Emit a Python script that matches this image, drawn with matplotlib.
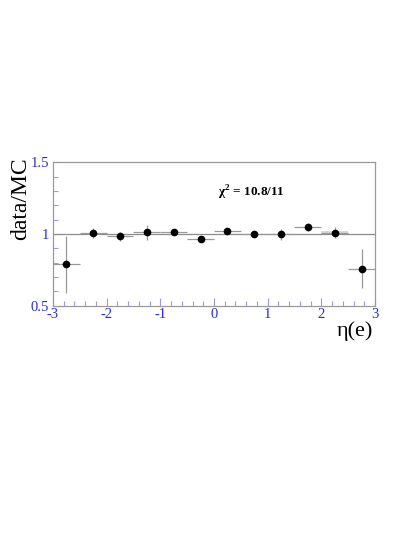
import matplotlib
matplotlib.use("Agg")
import matplotlib.pyplot as plt
from matplotlib.ticker import MultipleLocator

eta_centers = [-2.75, -2.25, -1.75, -1.25, -0.75, -0.25, 0.25, 0.75, 1.25, 1.75, 2.25, 2.75]
eta_halfwidth = [0.25] * 12
ratio = [0.79, 1.006, 0.985, 1.012, 1.012, 0.964, 1.024, 0.998, 0.998, 1.049, 1.010, 0.758]
ratio_err = [0.20, 0.035, 0.03, 0.05, 0.02, 0.01, 0.012, 0.01, 0.04, 0.03, 0.04, 0.135]
band_x = [2.0, 2.5]
band_lo = [1.0, 1.0]
band_hi = [1.02, 1.02]

plt.rcParams['font.family'] = ['Liberation Serif', 'DejaVu Serif']
plt.rcParams['mathtext.fontset'] = 'custom'
plt.rcParams['mathtext.rm'] = 'Liberation Serif'
plt.rcParams['mathtext.bf'] = 'Liberation Serif:bold'

fig = plt.figure(figsize=(4.15, 5.37), dpi=100)
ax = fig.add_axes([0.1277, 0.4307, 0.9036 - 0.1277, 0.6974 - 0.4307])

ax.fill_between(band_x, band_lo, band_hi, color='#d8d8d8', lw=0)
ax.axhline(1.0, color='#8c8c8c', lw=0.9)
ax.errorbar(eta_centers, ratio, xerr=eta_halfwidth, yerr=ratio_err, fmt='o',
            color='black', ms=4.5, ecolor='#9a9a9a', elinewidth=0.9, capsize=0)

ax.set_xlim(-3, 3)
ax.set_ylim(0.5, 1.5)
ax.xaxis.set_minor_locator(MultipleLocator(0.2))
ax.yaxis.set_minor_locator(MultipleLocator(0.1))
ax.set_yticks([0.5, 1, 1.5])
ax.set_yticklabels(['0.5', '1', '1.5'])
ax.set_xticks([-3, -2, -1, 0, 1, 2, 3])
ax.set_xticklabels(['-3', '-2', '-1', '0', '1', '2', '3'])

ax.tick_params(which='both', direction='in', color='#9a9aea', labelcolor='#2a2ae6',
               labelsize=10.5, top=False, right=False)
ax.tick_params(which='major', length=6, width=0.8)
ax.tick_params(which='minor', length=3.5, width=0.8)
ax.tick_params(axis='x', pad=2)
ax.tick_params(axis='y', pad=3)
for s in ax.spines.values():
    s.set_color('#9a9a9a')
    s.set_linewidth(0.9)

ax.set_ylabel('data/MC', fontsize=17, va='center')
ax.yaxis.set_label_coords(-0.1, 0.75)
ax.set_xlabel('η(e)', fontsize=16, ha='right', va='center')
ax.xaxis.set_label_coords(0.995, -0.18)

ax.text(0.07, 1.287, r'χ$^{\mathbf{2}}$ = 10.8/11', fontsize=9.5, fontweight='bold',
        va='center', ha='left')

fig.savefig('out.png', dpi=100)
